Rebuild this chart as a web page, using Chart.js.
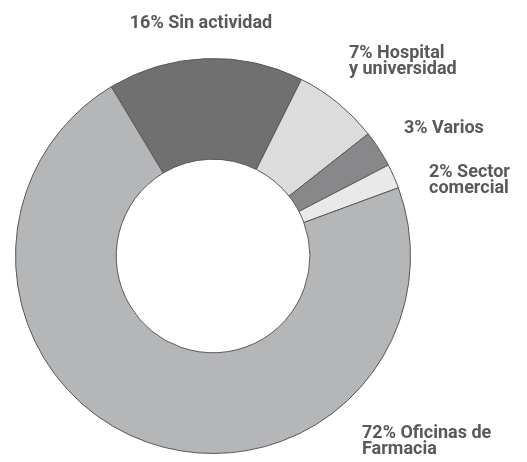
<!DOCTYPE html>
<html>
<head>
<meta charset="utf-8">
<script src="https://cdn.jsdelivr.net/npm/chart.js@4"></script>
<style>
    html, body { margin: 0; padding: 0; background: #fff; }
    #wrap { width: 527px; height: 462px; position: relative; }
</style>
</head>
<body>
<div id="wrap"><canvas id="donut"></canvas></div>
<script>
const categories = ['Sin actividad', 'Hospital y universidad', 'Varios', 'Sector comercial', 'Oficinas de Farmacia'];
const shares = [16, 7, 3, 2, 72];
const labelLines = [
    ['16% Sin actividad'],
    ['7% Hospital', 'y universidad'],
    ['3% Varios'],
    ['2% Sector', 'comercial'],
    ['72% Oficinas de', 'Farmacia']
];
const sliceColors = ['#707071', '#dcdcdd', '#88888a', '#e9e9ea', '#b5b6b8'];

// where each label block sits (x, first baseline y, alignment)
const labelSpots = [
    { x: 201, y: 28, align: 'center' },
    { x: 349, y: 58, align: 'left' },
    { x: 404, y: 133, align: 'left' },
    { x: 429, y: 177, align: 'left' },
    { x: 362, y: 438, align: 'left' }
];

const outsideLabels = {
    id: 'outsideLabels',
    afterDraw(chart) {
        const ctx = chart.ctx;
        ctx.save();
        ctx.fillStyle = '#58595b';
        ctx.font = 'bold 18px Roboto';
        ctx.textBaseline = 'alphabetic';
        labelLines.forEach((lines, i) => {
            const spot = labelSpots[i];
            ctx.textAlign = spot.align;
            lines.forEach((line, j) => {
                ctx.fillText(line, spot.x, spot.y + j * 16);
            });
        });
        ctx.restore();
    }
};

new Chart(document.getElementById('donut'), {
    type: 'doughnut',
    data: {
        labels: categories,
        datasets: [{
            data: shares,
            backgroundColor: sliceColors,
            borderColor: '#58585a',
            borderWidth: 1
        }]
    },
    options: {
        responsive: true,
        maintainAspectRatio: false,
        animation: false,
        rotation: -31,
        cutout: '49%',
        layout: {
            padding: { left: 15, right: 116, top: 58, bottom: 8 }
        },
        plugins: {
            legend: { display: false },
            tooltip: { enabled: false }
        }
    },
    plugins: [outsideLabels]
});
</script>
</body>
</html>
